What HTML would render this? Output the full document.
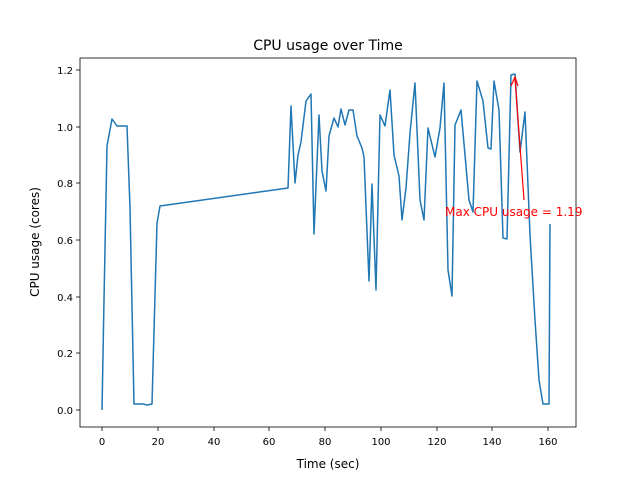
<!DOCTYPE html>
<html><head><style>body{margin:0;background:#fff}svg{display:block}</style></head><body>
<svg width="640" height="480" xmlns="http://www.w3.org/2000/svg" font-family="DejaVu Sans, Liberation Sans, sans-serif">
<rect x="80" y="58" width="496" height="369" fill="#fff" stroke="#000" stroke-width="0.8"/>
<clipPath id="c"><rect x="80" y="58" width="496" height="369"/></clipPath>
<polyline clip-path="url(#c)" fill="none" stroke="#1f77b4" stroke-width="1.5" stroke-linejoin="round" points="102,410 104,300 107,146 112,119 117,126 127,126 130,208 134,404 143,404 147,405 152,404 157,223 160,206 288,188 291,106 295,183 298,155 301,142 306,101 311,94 314,234 319,115 322,171 326,191 329,136 334,118 338,127 341,109 345,125 349,110 353,110 357,136 362,148 364,157 369,281 372,184 376,290 380,115 385,126 390,90 394,155 399,176 402,220 406,188 410,133 415,83 420,200 424,220 428,128 435,157 440,128 444,83 448,270 452,296 455,125 461,110 469,200 473,212 477,81 483,101 488,148 491,149 494,81 499,110 503,238 507,239 511,75 515,74 520,152 525,112 530,235 535,320 539,380 543,404 549,404 550,224"/>
<line x1="524" y1="200" x2="515" y2="79" stroke="red" stroke-width="1.2"/>
<polyline points="511,86 515,77 518,86" fill="none" stroke="red" stroke-width="1.2"/>
<text x="445" y="216" font-size="12" fill="red">Max CPU usage = 1.19</text>
<g font-size="10" text-anchor="middle" fill="#000">
<g stroke="#000" stroke-width="0.8">
<line x1="102" y1="427" x2="102" y2="431"/><line x1="158" y1="427" x2="158" y2="431"/><line x1="214" y1="427" x2="214" y2="431"/><line x1="269" y1="427" x2="269" y2="431"/><line x1="325" y1="427" x2="325" y2="431"/><line x1="381" y1="427" x2="381" y2="431"/><line x1="437" y1="427" x2="437" y2="431"/><line x1="492" y1="427" x2="492" y2="431"/><line x1="548" y1="427" x2="548" y2="431"/>
<line x1="76" y1="410" x2="80" y2="410"/><line x1="76" y1="353" x2="80" y2="353"/><line x1="76" y1="297" x2="80" y2="297"/><line x1="76" y1="240" x2="80" y2="240"/><line x1="76" y1="183" x2="80" y2="183"/><line x1="76" y1="127" x2="80" y2="127"/><line x1="76" y1="70" x2="80" y2="70"/>
</g>
<text x="102" y="445">0</text><text x="158" y="445">20</text><text x="214" y="445">40</text><text x="269" y="445">60</text><text x="325" y="445">80</text><text x="381" y="445">100</text><text x="437" y="445">120</text><text x="492" y="445">140</text><text x="548" y="445">160</text>
<g text-anchor="end"><text x="73" y="414">0.0</text><text x="73" y="357">0.2</text><text x="73" y="301">0.4</text><text x="73" y="244">0.6</text><text x="73" y="187">0.8</text><text x="73" y="131">1.0</text><text x="73" y="74">1.2</text></g>
<text x="328" y="468" font-size="12">Time (sec)</text>
<text x="0" y="0" font-size="12" transform="translate(39,242) rotate(-90)">CPU usage (cores)</text>
<text x="328" y="50" font-size="14">CPU usage over Time</text>
</g>
</svg>
</body></html>
